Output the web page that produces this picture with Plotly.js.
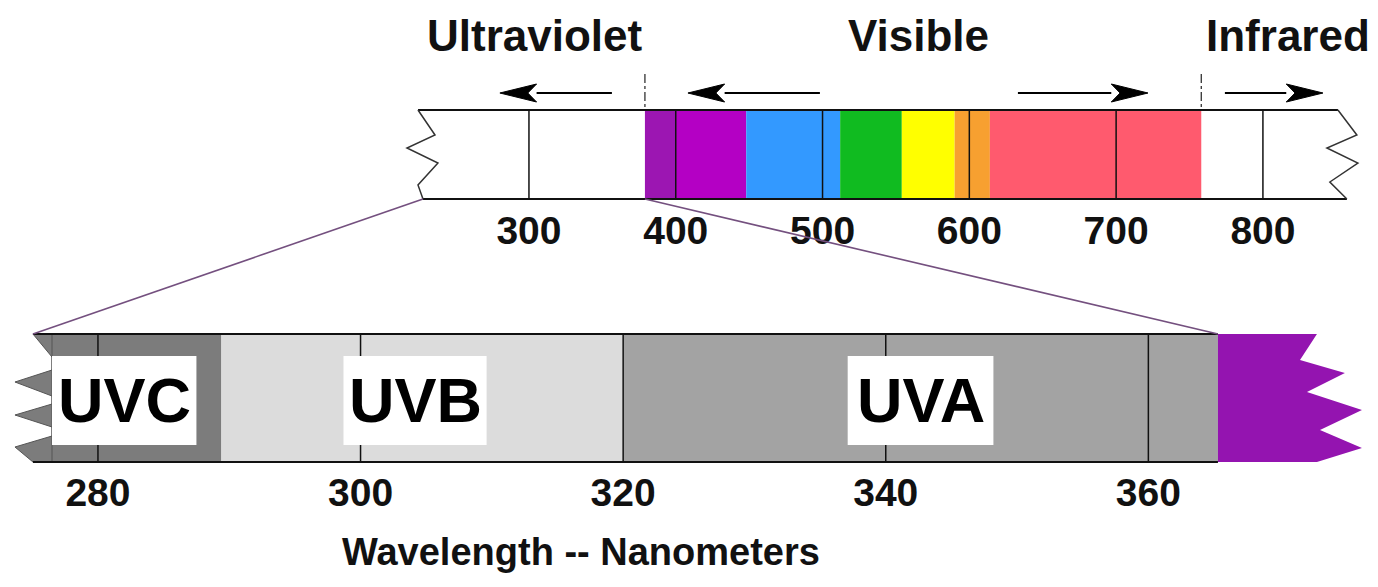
<!DOCTYPE html>
<html><head><meta charset="utf-8">
<script src="https://cdn.plot.ly/plotly-3.0.1.min.js"></script>
<style>html,body{margin:0;padding:0;background:#fff}#chart{width:1378px;height:587px}</style>
</head><body><div id="chart"></div>
<script>
// ---------- Top: full spectrum (nm) ----------
const bandNames  = ['Violet (edge)','Violet','Blue','Green','Yellow','Orange','Red'];
const bandStart  = [379, 400, 448, 512, 554, 590, 614];
const bandEnd    = [400, 448, 512, 554, 590, 614, 758];
const bandColors = ['#9c16b2','#b400c4','#3399ff','#10bb20','#ffff00','#f7a030','#ff5a6e'];
const topTicks      = [300, 400, 500, 600, 700, 800];
const topTickLabels = ['300','400','500','600','700','800'];
const regionNames   = ['Ultraviolet','Visible','Infrared'];
const regionLabelX  = [304.1, 565.7, 817.0];
const regionBounds  = [379, 758];
const arrowTail = [356.5, 498.2, 633.1, 774.1];
const arrowTip  = [280.2, 408.3, 721.7, 840.9];
// broken-edge (zigzag) outline of the top bar, nm
const topLeftZigX  = [224.4, 236.0, 216.9, 238.0, 224.4, 227.8];
const topRightZigX = [851.1, 864.0, 843.6, 864.7, 845.6, 857.2];

// ---------- Bottom: UV detail (nm) ----------
const uvNames  = ['UVC','UVB','UVA'];
const uvStart  = [276.5, 289.4, 320];
const uvEnd    = [289.4, 320, 365.3];
const uvColors = ['#7c7c7c','#dcdcdc','#a3a3a3'];
const uvBoxStart = [276.5, 298.7, 337.1];
const uvBoxEnd   = [287.5, 309.6, 348.2];
const bottomTicks      = [280, 300, 320, 340, 360];
const bottomTickLabels = ['280','300','320','340','360'];
const axisTitle = 'Wavelength -- Nanometers';
const axisTitleX = 316.8;
const uvLeftEdge = 275.05;
const leftTeethX  = [276.5, 275.05, 276.5, 276.5, 273.68, 276.5, 276.5, 273.68, 276.5, 276.5, 273.68, 275.05, 276.5];
const violetTailX = [365.3, 372.84, 371.55, 374.97, 372.08, 376.27, 373.07, 376.27, 372.84, 365.3];

// ---------- layout geometry (pixels from top) ----------
const W = 1378, H = 587;
const TOP_Y0 = 110, TOP_Y1 = 199, BOT_Y0 = 334, BOT_Y1 = 462;
const topZigY   = [110, 135, 148, 163, 185, 199];
const topZigYR  = [110, 135, 148, 163, 182, 199];
const leftTeethY = [334, 334, 357, 370, 382, 396, 404, 415, 427, 436, 447, 462, 462];
const violetTailY = [334, 334, 360, 373, 392, 410, 430, 448, 462, 462];
const ARROW_Y = 93;
const R1 = [-60.35, 878.4];   // top axis range
const R2 = [272.54, 377.49];  // bottom axis range

const FONT = 'Liberation Sans, Arial, Helvetica, sans-serif';
const shapes = [];
const annotations = [];

function pathFrom(xs, ys, close) {
  let s = 'M' + xs[0] + ',' + ys[0];
  for (let i = 1; i < xs.length; i++) s += ' L' + xs[i] + ',' + ys[i];
  return close ? s + ' Z' : s;
}

// top bar white fill
const fillX = topLeftZigX.concat(topRightZigX.slice().reverse());
const fillY = topZigY.concat(topZigYR.slice().reverse());
shapes.push({type:'path', xref:'x', yref:'y', path:pathFrom(fillX, fillY, true), fillcolor:'#ffffff', line:{width:0}, layer:'below'});
// colour bands
for (let i = 0; i < bandStart.length; i++) {
  shapes.push({type:'rect', xref:'x', yref:'y', x0:bandStart[i], x1:bandEnd[i], y0:TOP_Y0, y1:TOP_Y1,
    fillcolor:bandColors[i], line:{width:0}, layer:'below'});
}
// top ticks inside bar
topTicks.forEach(t => shapes.push({type:'line', xref:'x', yref:'y', x0:t, x1:t, y0:TOP_Y0, y1:TOP_Y1, line:{color:'#111', width:1.5}}));
// outline
shapes.push({type:'line', xref:'x', yref:'y', x0:topLeftZigX[0], x1:topRightZigX[0], y0:TOP_Y0, y1:TOP_Y0, line:{color:'#111', width:2}});
shapes.push({type:'line', xref:'x', yref:'y', x0:topLeftZigX[5], x1:topRightZigX[5], y0:TOP_Y1, y1:TOP_Y1, line:{color:'#111', width:2}});
shapes.push({type:'path', xref:'x', yref:'y', path:pathFrom(topLeftZigX, topZigY, false), line:{color:'#333', width:1.5}});
shapes.push({type:'path', xref:'x', yref:'y', path:pathFrom(topRightZigX, topZigYR, false), line:{color:'#333', width:1.5}});
// region boundaries
regionBounds.forEach(b => shapes.push({type:'line', xref:'x', yref:'y', x0:b, x1:b, y0:74, y1:TOP_Y0, line:{color:'#222', width:1.2, dash:'dashdot'}}));
// arrows
const headLen = 25, headHalf = 9;
for (let i = 0; i < arrowTail.length; i++) {
  const dir = arrowTip[i] > arrowTail[i] ? 1 : -1;
  const base = arrowTip[i] - dir * headLen;
  shapes.push({type:'line', xref:'x', yref:'y', x0:arrowTail[i], x1:base, y0:ARROW_Y, y1:ARROW_Y, line:{color:'#000', width:2}});
  shapes.push({type:'path', xref:'x', yref:'y',
    path:pathFrom([arrowTip[i], base, base + dir*6, base], [ARROW_Y, ARROW_Y - headHalf, ARROW_Y, ARROW_Y + headHalf], true),
    fillcolor:'#000', line:{color:'#000', width:1}});
}
// region labels
regionNames.forEach((n, i) => annotations.push({xref:'x', yref:'y', x:regionLabelX[i], y:35, text:n, showarrow:false,
  font:{family:FONT, size:44, color:'#111', weight:'bold'}, xanchor:'center', yanchor:'middle'}));

// ---------- bottom bar ----------
for (let i = 0; i < uvStart.length; i++) {
  shapes.push({type:'rect', xref:'x2', yref:'y', x0:uvStart[i], x1:uvEnd[i], y0:BOT_Y0, y1:BOT_Y1,
    fillcolor:uvColors[i], line:{width:0}, layer:'below'});
}
shapes.push({type:'path', xref:'x2', yref:'y', path:pathFrom(leftTeethX, leftTeethY, true), fillcolor:uvColors[0], line:{color:'#555', width:1}, layer:'below'});
shapes.push({type:'path', xref:'x2', yref:'y', path:pathFrom(violetTailX, violetTailY, true), fillcolor:'#9414b0', line:{width:0}, layer:'below'});
bottomTicks.forEach(t => shapes.push({type:'line', xref:'x2', yref:'y', x0:t, x1:t, y0:BOT_Y0, y1:BOT_Y1, line:{color:'#111', width:1.5}}));
shapes.push({type:'line', xref:'x2', yref:'y', x0:uvLeftEdge, x1:uvEnd[2], y0:BOT_Y0, y1:BOT_Y0, line:{color:'#111', width:2}});
shapes.push({type:'line', xref:'x2', yref:'y', x0:uvLeftEdge, x1:uvEnd[2], y0:BOT_Y1, y1:BOT_Y1, line:{color:'#111', width:2}});
// label boxes + labels
for (let i = 0; i < uvNames.length; i++) {
  shapes.push({type:'rect', xref:'x2', yref:'y', x0:uvBoxStart[i], x1:uvBoxEnd[i], y0:356, y1:445, fillcolor:'#ffffff', line:{width:0}});
  annotations.push({xref:'x2', yref:'y', x:(uvBoxStart[i]+uvBoxEnd[i])/2, y:400, text:uvNames[i], showarrow:false,
    font:{family:FONT, size:63, color:'#000', weight:'bold'}, xanchor:'center', yanchor:'middle'});
}
// axis title
annotations.push({xref:'x2', yref:'y', x:axisTitleX, y:552, text:axisTitle, showarrow:false,
  font:{family:FONT, size:38, color:'#111', weight:'bold'}, xanchor:'center', yanchor:'middle'});
// connector lines (top-axis nm -> bottom-axis nm), expressed in paper units
const p1 = v => (v - R1[0]) / (R1[1] - R1[0]);
const p2 = v => (v - R2[0]) / (R2[1] - R2[0]);
[[topLeftZigX[5], uvLeftEdge], [regionBounds[0], uvEnd[2]]].forEach(([a, b]) =>
  shapes.push({type:'line', xref:'paper', yref:'y', x0:p1(a), x1:p2(b), y0:TOP_Y1, y1:BOT_Y0, line:{color:'#74507f', width:1.6}}));

const traces = [
  {x:[topTicks[0]], y:[-50], xaxis:'x', yaxis:'y', mode:'markers', marker:{opacity:0}, hoverinfo:'skip', showlegend:false},
  {x:[bottomTicks[0]], y:[-50], xaxis:'x2', yaxis:'y', mode:'markers', marker:{opacity:0}, hoverinfo:'skip', showlegend:false}
];

const layout = {
  width:W, height:H, margin:{l:0, r:0, t:0, b:0},
  paper_bgcolor:'#ffffff', plot_bgcolor:'#ffffff', showlegend:false,
  xaxis:{range:R1, domain:[0,1], anchor:'free', position:(H-TOP_Y1)/H, showgrid:false, zeroline:false, showline:false,
    ticks:'', tickvals:topTicks, ticktext:topTickLabels, ticklabelstandoff:5,
    tickfont:{family:FONT, size:39, color:'#111', weight:'bold'}, fixedrange:true},
  xaxis2:{range:R2, overlaying:'x', anchor:'free', position:(H-BOT_Y1)/H, showgrid:false, zeroline:false, showline:false,
    ticks:'', tickvals:bottomTicks, ticktext:bottomTickLabels, ticklabelstandoff:4,
    tickfont:{family:FONT, size:39, color:'#111', weight:'bold'}, fixedrange:true},
  yaxis:{range:[H, 0], domain:[0,1], visible:false, fixedrange:true},
  shapes:shapes, annotations:annotations
};
Plotly.newPlot('chart', traces, layout, {staticPlot:true, displayModeBar:false});
</script></body></html>
